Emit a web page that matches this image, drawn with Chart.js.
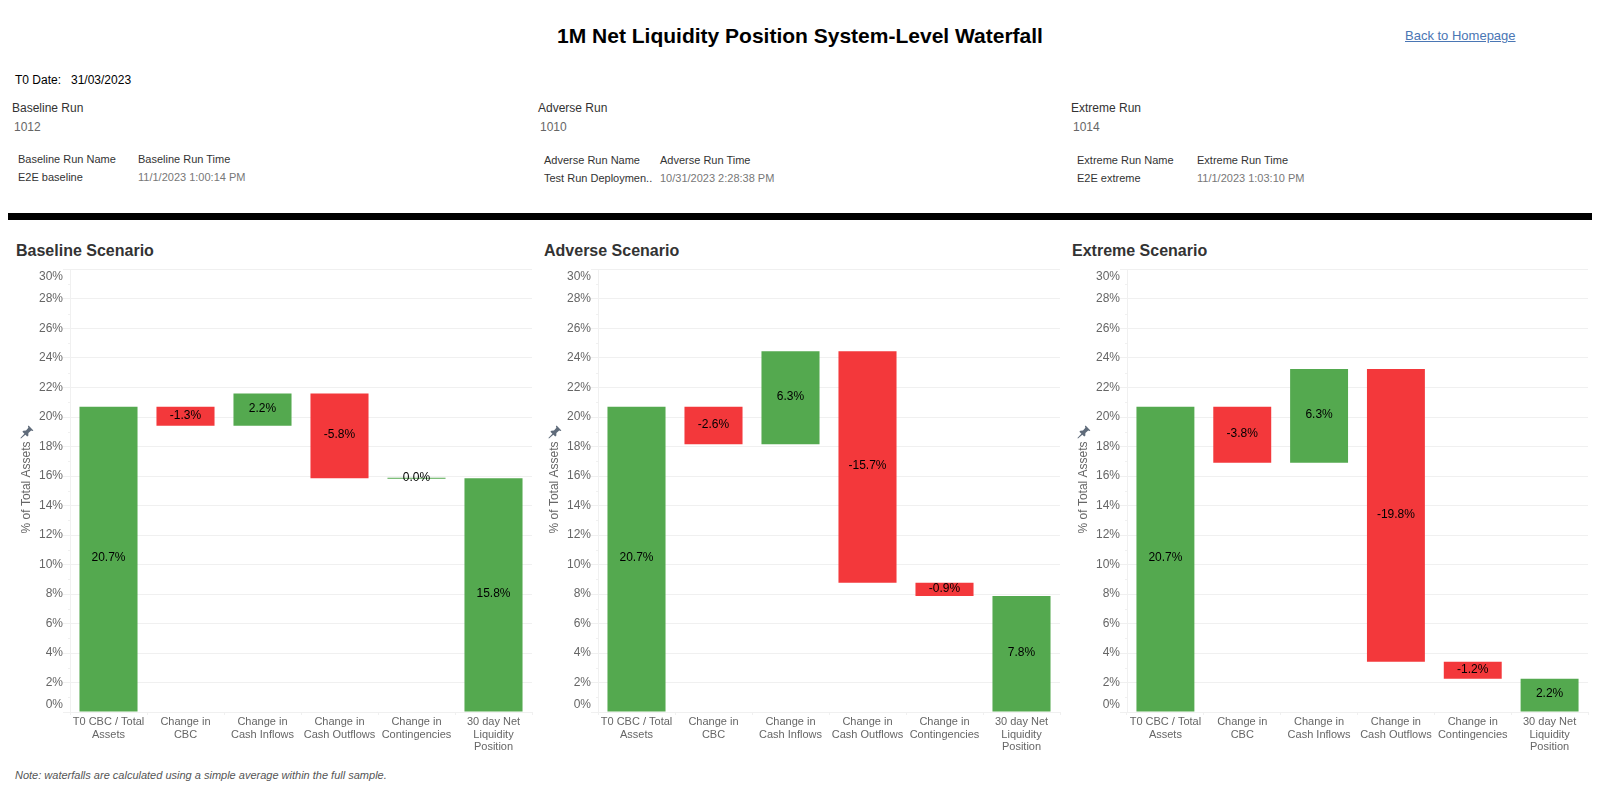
<!DOCTYPE html>
<html lang="en">

<head>
    <meta charset="UTF-8">
    <title>1M Net Liquidity Position System-Level Waterfall</title>
    <script src="https://cdn.jsdelivr.net/npm/chart.js"></script>
    <style>
        html, body { margin: 0; padding: 0; background: #fff; width: 1600px; height: 800px; overflow: hidden; }
        body { font-family: "Liberation Sans", Arial, sans-serif; position: relative; }
        .t { position: absolute; white-space: nowrap; line-height: 20px; height: 20px; font-size: 12px; color: #333; }
        .small { font-size: 11px; }
        .val { color: #666; }
        .time { color: #777; }
        .scenario { font-size: 16px; font-weight: bold; color: #333; }
        canvas { position: absolute; top: 262px; }
        .pin { position: absolute; top: 425px; width: 14px; height: 14px; }
    </style>
</head>

<body>
    <div class="t" style="left:0;width:1600px;text-align:center;top:26px;font-size:21px;font-weight:bold;color:#000">1M Net Liquidity Position System-Level Waterfall</div>
    <div class="t" style="left:1405px;top:26px;font-size:13px;color:#4a76b4;text-decoration:underline">Back to Homepage</div>

    <div class="t" style="left:15px;top:70px;color:#000">T0 Date:</div>
    <div class="t" style="left:71px;top:70px;color:#000">31/03/2023</div>

    <!-- cabecalho dos tres cenarios -->
    <div class="t" style="left:12px;top:98px">Baseline Run</div>
    <div class="t val" style="left:14px;top:117px">1012</div>
    <div class="t small" style="left:18px;top:149px">Baseline Run Name</div>
    <div class="t small" style="left:138px;top:149px">Baseline Run Time</div>
    <div class="t small" style="left:18px;top:167px">E2E baseline</div>
    <div class="t small time" style="left:138px;top:167px">11/1/2023 1:00:14 PM</div>

    <div class="t" style="left:538px;top:98px">Adverse Run</div>
    <div class="t val" style="left:540px;top:117px">1010</div>
    <div class="t small" style="left:544px;top:150px">Adverse Run Name</div>
    <div class="t small" style="left:660px;top:150px">Adverse Run Time</div>
    <div class="t small" style="left:544px;top:168px">Test Run Deploymen..</div>
    <div class="t small time" style="left:660px;top:168px">10/31/2023 2:28:38 PM</div>

    <div class="t" style="left:1071px;top:98px">Extreme Run</div>
    <div class="t val" style="left:1073px;top:117px">1014</div>
    <div class="t small" style="left:1077px;top:150px">Extreme Run Name</div>
    <div class="t small" style="left:1197px;top:150px">Extreme Run Time</div>
    <div class="t small" style="left:1077px;top:168px">E2E extreme</div>
    <div class="t small time" style="left:1197px;top:168px">11/1/2023 1:03:10 PM</div>

    <div style="position:absolute;left:8px;top:213px;width:1584px;height:7px;background:#000"></div>

    <div class="t scenario" style="left:16px;top:241px">Baseline Scenario</div>
    <div class="t scenario" style="left:544px;top:241px">Adverse Scenario</div>
    <div class="t scenario" style="left:1072px;top:241px">Extreme Scenario</div>

    <canvas id="baselineChart" width="526" height="494" style="left:8px;width:526px;height:494px"></canvas>
    <canvas id="adverseChart" width="526" height="494" style="left:536px;width:526px;height:494px"></canvas>
    <canvas id="extremeChart" width="525" height="494" style="left:1065px;width:525px;height:494px"></canvas>

    <svg class="pin" style="left:20px" viewBox="0 0 14 14"><path fill="#5f6b7a" d="M8.6 0.6 13.4 5.4 12.4 6.1 11.2 5.6 8.4 8 8.3 10.7 7.2 11.6 2.4 6.8 3.3 5.7 6 5.6 8.4 2.8 7.9 1.6Z M4.6 8.4 5.6 9.4 1 13.6 0.4 13Z"/></svg>
    <svg class="pin" style="left:548px" viewBox="0 0 14 14"><path fill="#5f6b7a" d="M8.6 0.6 13.4 5.4 12.4 6.1 11.2 5.6 8.4 8 8.3 10.7 7.2 11.6 2.4 6.8 3.3 5.7 6 5.6 8.4 2.8 7.9 1.6Z M4.6 8.4 5.6 9.4 1 13.6 0.4 13Z"/></svg>
    <svg class="pin" style="left:1077px" viewBox="0 0 14 14"><path fill="#5f6b7a" d="M8.6 0.6 13.4 5.4 12.4 6.1 11.2 5.6 8.4 8 8.3 10.7 7.2 11.6 2.4 6.8 3.3 5.7 6 5.6 8.4 2.8 7.9 1.6Z M4.6 8.4 5.6 9.4 1 13.6 0.4 13Z"/></svg>

    <div class="t" style="left:15px;top:765px;font-size:11px;font-style:italic;color:#555">Note: waterfalls are calculated using a simple average within the full sample.</div>

    <script>
        const categories = [
            ['T0 CBC / Total', 'Assets'],
            ['Change in', 'CBC'],
            ['Change in', 'Cash Inflows'],
            ['Change in', 'Cash Outflows'],
            ['Change in', 'Contingencies'],
            ['30 day Net', 'Liquidity', 'Position']
        ]

        const baselineChanges = [20.7, -1.3, 2.2, -5.8, 0.0, 15.8]
        const baselineBottoms = [0, 19.4, 19.4, 15.85, 15.82, 0]
        const baselineTops = [20.7, 20.7, 21.6, 21.6, 15.88, 15.85]

        const adverseChanges = [20.7, -2.6, 6.3, -15.7, -0.9, 7.8]
        const adverseBottoms = [0, 18.15, 18.15, 8.77, 7.87, 0]
        const adverseTops = [20.7, 20.7, 24.45, 24.45, 8.77, 7.87]

        const extremeChanges = [20.7, -3.8, 6.3, -19.8, -1.2, 2.2]
        const extremeBottoms = [0, 16.9, 16.9, 3.41, 2.25, 0]
        const extremeTops = [20.7, 20.7, 23.25, 23.25, 3.41, 2.25]

        const VERDE = '#54a94f'
        const VERMELHO = '#f3383b'
        const GRADE = '#f0f0f0'
        const TEXTO = '#666666'

        Chart.defaults.font.family = '"Liberation Sans", Arial, sans-serif'
        Chart.defaults.animation = false

        // rotulo de valor no meio de cada barra + tracinhos dos valores impares
        const extrasPlugin = {
            id: 'extras',
            afterDatasetsDraw(chart, args, opts) {
                const ctx = chart.ctx
                const y = chart.scales.y
                ctx.save()
                ctx.strokeStyle = GRADE
                ctx.lineWidth = 1
                y.ticks.forEach(function (tick) {
                    if (tick.value % 2 == 1) {
                        const py = Math.round(y.getPixelForValue(tick.value)) + 0.5
                        ctx.beginPath()
                        ctx.moveTo(chart.chartArea.left - 2, py)
                        ctx.lineTo(chart.chartArea.left, py)
                        ctx.stroke()
                    }
                })
                ctx.fillStyle = '#000'
                ctx.font = '12px "Liberation Sans", Arial, sans-serif'
                ctx.textAlign = 'center'
                ctx.textBaseline = 'middle'
                chart.getDatasetMeta(0).data.forEach(function (bar, i) {
                    const p = bar.getProps(['x', 'y', 'base'], true)
                    ctx.fillText(opts.changes[i].toFixed(1) + '%', p.x, (p.y + p.base) / 2 - 1)
                })
                ctx.restore()
            }
        }

        function criarGrafico(id, changes, bottoms, tops) {
            return new Chart(document.getElementById(id), {
                type: 'bar',
                plugins: [extrasPlugin],
                data: {
                    labels: categories,
                    datasets: [{
                        data: bottoms.map(function (b, i) { return [b, tops[i]] }),
                        backgroundColor: changes.map(function (v) { return v < 0 ? VERMELHO : VERDE }),
                        borderSkipped: false,
                        categoryPercentage: 1,
                        barPercentage: 0.754
                    }]
                },
                options: {
                    responsive: false,
                    devicePixelRatio: 1,
                    layout: { autoPadding: false, padding: { top: 7.5, right: 2, left: 0, bottom: 0 } },
                    plugins: {
                        legend: { display: false },
                        tooltip: { enabled: false },
                        extras: { changes: changes }
                    },
                    scales: {
                        x: {
                            afterFit: function (scale) {
                                scale.height = 44
                                scale.paddingLeft = 0
                                scale.paddingRight = 0
                            },
                            grid: { offset: true, drawOnChartArea: false, color: GRADE, tickColor: GRADE, tickLength: 3 },
                            border: { color: GRADE },
                            ticks: {
                                autoSkip: false,
                                maxRotation: 0,
                                minRotation: 0,
                                padding: 1,
                                color: TEXTO,
                                font: { size: 11, lineHeight: 1.14 }
                            }
                        },
                        y: {
                            min: 0,
                            max: 30,
                            afterFit: function (scale) {
                                scale.width = 62
                                scale.paddingTop = 0
                                scale.paddingBottom = 0
                            },
                            title: {
                                display: true,
                                text: '  % of Total Assets',
                                color: TEXTO,
                                font: { size: 12 },
                                padding: { top: 11, bottom: 0 }
                            },
                            grid: {
                                color: function (c) { return c.tick.value % 2 == 0 ? GRADE : 'transparent' },
                                tickColor: function (c) { return c.tick.value % 2 == 0 ? GRADE : 'transparent' },
                                tickLength: 7
                            },
                            border: { color: GRADE },
                            ticks: {
                                stepSize: 1,
                                autoSkip: false,
                                padding: 0,
                                color: TEXTO,
                                font: { size: 12 },
                                callback: function (value) {
                                    if (value % 2 != 0) return ''
                                    // primeiro e ultimo ficam para dentro do eixo
                                    if (value == 0) return ['0%', '']
                                    if (value == 30) return ['', '30%']
                                    return value + '%'
                                }
                            }
                        }
                    }
                }
            })
        }

        criarGrafico('baselineChart', baselineChanges, baselineBottoms, baselineTops)
        criarGrafico('adverseChart', adverseChanges, adverseBottoms, adverseTops)
        criarGrafico('extremeChart', extremeChanges, extremeBottoms, extremeTops)
    </script>
</body>

</html>
